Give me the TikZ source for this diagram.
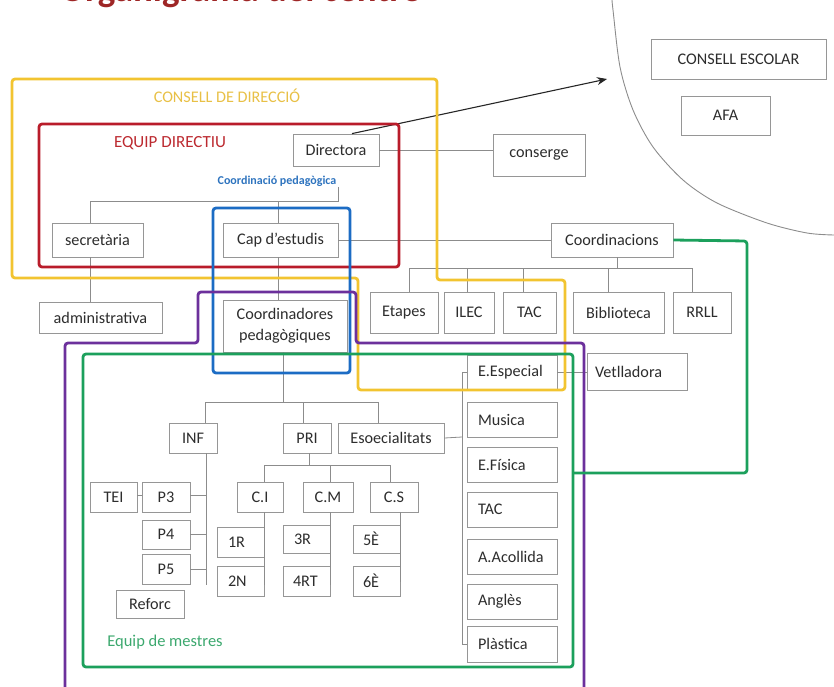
\documentclass[tikz,border=0pt]{standalone}
\usepackage{fontspec}
\setmainfont{Carlito}
\usetikzlibrary{arrows.meta}
\definecolor{boxline}{RGB}{150,150,150}
\definecolor{txt}{RGB}{45,45,45}
\definecolor{conn}{RGB}{140,140,140}
\definecolor{cyellow}{RGB}{242,196,48}
\definecolor{cred}{RGB}{185,28,42}
\definecolor{cblue}{RGB}{28,108,196}
\definecolor{cpurple}{RGB}{108,48,156}
\definecolor{cgreen}{RGB}{28,160,92}
\definecolor{ctitle}{RGB}{158,38,38}
\definecolor{lyellow}{RGB}{232,192,70}
\definecolor{lred}{RGB}{188,42,48}
\definecolor{lblue}{RGB}{45,115,190}
\definecolor{lgreen}{RGB}{60,168,110}
\begin{document}
\begin{tikzpicture}[x=1pt,y=-1pt,
  bx/.style={draw=boxline, line width=0.8pt, fill=white, inner sep=0pt, text=txt,
    font=\fontsize{16.2}{18}\selectfont, align=center},
  lbx/.style={bx, align=left},
  cn/.style={draw=conn, line width=0.8pt},
  frame/.style={line width=2.8pt, rounded corners=3pt},
  grp/.style={inner sep=0pt, font=\fontsize{16.2}{18}\selectfont}]
\useasboundingbox (0,0) rectangle (834,686);
\clip (0,0) rectangle (834,686);

% title (cut by the top edge)
\node[anchor=base west, inner sep=0pt, text=ctitle, font=\fontsize{37}{40}\selectfont\bfseries] (title) at (60,1.5) {Organigrama del centre};

% outside circle
\draw[conn, line width=0.9pt] plot[smooth] coordinates {(612,0) (613,10) (620,67) (633,110) (653,147) (683,180) (717,203) (767,223) (807,233) (834,235)};

% boxes
\node[bx, minimum width=175, minimum height=40] (consell) at (738.5,59) {CONSELL ESCOLAR};
\node[bx, minimum width=89, minimum height=39] (afa) at (725.5,115.5) {AFA};
\node[bx, minimum width=86, minimum height=32] (directora) at (336,150) {Directora};
\node[bx, minimum width=92, minimum height=42] (conserge) at (539,155) {conserge};
\node[bx, minimum width=91, minimum height=34] (secretaria) at (97.5,240) {secretària};
\node[bx, minimum width=115, minimum height=34] (cap) at (280.5,240) {Cap d’estudis};
\node[bx, minimum width=122, minimum height=34] (coordinacions) at (612,240) {Coordinacions};
\node[bx, minimum width=123, minimum height=31] (administrativa) at (100.5,317.5) {administrativa};
\node[bx, minimum width=124, minimum height=52, font=\fontsize{16.2}{21}\selectfont] (coordped) at (285,326) {Coordinadores\\pedagògiques};
\node[bx, minimum width=68, minimum height=41] (etapes) at (404,312.5) {Etapes};
\node[bx, minimum width=50, minimum height=41] (ilec) at (469,312.5) {ILEC};
\node[bx, minimum width=53, minimum height=41] (tacc) at (529.5,312.5) {TAC};
\node[bx, minimum width=91, minimum height=41] (biblioteca) at (618.5,312.5) {Biblioteca};
\node[bx, minimum width=58, minimum height=41] (rrll) at (702,312.5) {RRLL};

\node[lbx, minimum width=90, minimum height=35, text width=68] (especial) at (512,372.5) {E.Especial};
\node[lbx, minimum width=100, minimum height=37, text width=84] (vetlladora) at (637,371.5) {Vetlladora};
\node[lbx, minimum width=90, minimum height=35, text width=68] (musica) at (512,419.5) {Musica};
\node[lbx, minimum width=90, minimum height=35, text width=68] (efisica) at (512,464.5) {E.Física};
\node[lbx, minimum width=90, minimum height=35, text width=68] (tacs) at (512,509.5) {TAC};
\node[lbx, minimum width=90, minimum height=35, text width=68] (acollida) at (512,556.5) {A.Acollida};
\node[lbx, minimum width=90, minimum height=35, text width=68] (angles) at (512,601.5) {Anglès};
\node[lbx, minimum width=90, minimum height=36, text width=68] (plastica) at (512,644) {Plàstica};

\node[bx, minimum width=48, minimum height=30] (inf) at (193,438) {INF};
\node[bx, minimum width=48, minimum height=30] (pri) at (307,438) {PRI};
\node[bx, minimum width=106, minimum height=30] (esoec) at (391,438) {Esoecialitats};
\node[bx, minimum width=47, minimum height=30] (tei) at (113.5,497) {TEI};
\node[bx, minimum width=48, minimum height=30] (p3) at (166,497) {P3};
\node[bx, minimum width=48, minimum height=29] (p4) at (166,534.5) {P4};
\node[bx, minimum width=48, minimum height=30] (p5) at (166,569) {P5};
\node[bx, minimum width=68, minimum height=28] (reforc) at (150,604) {Reforc};
\node[bx, minimum width=46, minimum height=30] (ci) at (260,497) {C.I};
\node[bx, minimum width=50, minimum height=30] (cm) at (328,497) {C.M};
\node[bx, minimum width=48, minimum height=30] (cs) at (394,497) {C.S};
\node[lbx, minimum width=47, minimum height=30, text width=25] (r1) at (240.5,542) {1R};
\node[lbx, minimum width=47, minimum height=30, text width=25] (n2) at (240.5,581) {2N};
\node[lbx, minimum width=47, minimum height=28, text width=25] (r3) at (306.5,539) {3R};
\node[lbx, minimum width=47, minimum height=30, text width=27] (rt4) at (306.5,581) {4RT};
\node[lbx, minimum width=47, minimum height=28, text width=27] (e5) at (376.5,539) {5È};
\node[lbx, minimum width=47, minimum height=30, text width=27] (e6) at (376.5,581) {6È};

% group labels
\node[grp, text=lyellow] (lcd) at (227,96) {CONSELL DE DIRECCIÓ};
\node[grp, text=lred, font=\fontsize{17}{19}\selectfont] (led) at (170,143) {EQUIP DIRECTIU};
\node[inner sep=0pt, text=lblue, font=\fontsize{12}{14}\selectfont\bfseries] (lcp) at (277,181.5) {Coordinació pedagògica};
\node[inner sep=0pt, text=lgreen, font=\fontsize{16.5}{18}\selectfont] (lem) at (165,642) {Equip de mestres};

% junction coordinates
\coordinate (jd) at (338,201);
\coordinate (jsec) at (90,201);
\coordinate (jcap) at (278,201);
\coordinate (jco) at (617,268);
\coordinate (jcp) at (283,402);
\coordinate (jpri) at (309,465);
\coordinate (jsp) at (462,437);
\coordinate (jinf) at (206,585);

% connectors
\draw[cn] (directora.east) -- (directora.east -| conserge.west);
\draw[cn] (lcp.south -| jd) -- (jd) -- (jsec) -- (secretaria.north -| jsec);
\draw[cn] (jcap) -- (cap.north -| jcap);
\draw[cn] (secretaria.south -| jsec) -- (administrativa.north -| jsec);
\draw[cn] (cap.east) -- (coordinacions.west);
\draw[cn] (cap.south -| jcap) -- (coordped.north -| jcap);
% coordinacions tree
\draw[cn] (coordinacions.south -| jco) -- (jco);
\draw[cn] ([xshift=5pt]etapes.north |- jco) -- ([xshift=-10pt]rrll.north |- jco);
\draw[cn] ([xshift=5pt]etapes.north) -- ([xshift=5pt]etapes.north |- jco);
\draw[cn] ([xshift=-2pt]ilec.north) -- ([xshift=-2pt]ilec.north |- jco);
\draw[cn] ([xshift=-6pt]tacc.north) -- ([xshift=-6pt]tacc.north |- jco);
\draw[cn] ([xshift=-10pt]biblioteca.north) -- ([xshift=-10pt]biblioteca.north |- jco);
\draw[cn] ([xshift=-10pt]rrll.north) -- ([xshift=-10pt]rrll.north |- jco);
% coordinadores tree
\draw[cn] (coordped.south -| jcp) -- (jcp);
\draw[cn] ([xshift=12pt]inf.north |- jcp) -- ([xshift=-13pt]esoec.north |- jcp);
\draw[cn] ([xshift=12pt]inf.north) -- ([xshift=12pt]inf.north |- jcp);
\draw[cn] ([xshift=-4pt]pri.north) -- ([xshift=-4pt]pri.north |- jcp);
\draw[cn] ([xshift=-13pt]esoec.north) -- ([xshift=-13pt]esoec.north |- jcp);
% INF tree
\draw[cn] (inf.south -| jinf) -- (jinf);
\draw[cn] ([yshift=2pt]p3.east) -- ([yshift=2pt]p3.east -| jinf);
\draw[cn] (p4.east) -- (p4.east -| jinf);
\draw[cn] (p5.east) -- (p5.east -| jinf);
\draw[cn] ([yshift=2pt]tei.east) -- ([yshift=2pt]p3.west);
% PRI tree
\draw[cn] (pri.south -| jpri) -- (jpri);
\draw[cn] (r1.east |- jpri) -- ([xshift=-4pt]cs.north |- jpri);
\draw[cn] (r1.east |- jpri) -- (r1.east |- ci.north);
\draw[cn] ([xshift=2pt]cm.north |- jpri) -- ([xshift=2pt]cm.north);
\draw[cn] ([xshift=-4pt]cs.north |- jpri) -- ([xshift=-4pt]cs.north);
\draw[cn] (r1.east |- ci.south) -- ([yshift=-4pt]n2.east);
\draw[cn] (r3.east |- cm.south) -- ([yshift=-4pt]rt4.east);
\draw[cn] (e5.east |- cs.south) -- ([yshift=-1pt]e6.east);
% specialities column
\draw[cn] (esoec.east) -- (jsp);
\draw[cn] (especial.west) -- (especial.west -| jsp) -- (plastica.west -| jsp) -- (plastica.west);
\draw[cn] (especial.east) -- (especial.east -| vetlladora.west);

% arrow to the school council
\coordinate (arrowend) at (607,79);
\draw[black!85, line width=1.1pt, -{Stealth[length=10pt,width=8pt]}] ([xshift=16pt]directora.north) -- (arrowend);

% coloured frames
\draw[frame, draw=cyellow] (12,79) -- (437,79) -- (437,280) -- (565,280) -- (565,390) -- (358,390) -- (358,278) -- (12,278) -- cycle;
\draw[frame, draw=cred] (39,124) rectangle (399,267);
\draw[frame, draw=cblue] (213,208) rectangle (350,373);
\draw[frame, draw=cpurple] (65,700) -- (65,343) -- (198,343) -- (198,292) -- (356,292) -- (356,343) -- (584,343) -- (584,700);
\draw[frame, draw=cgreen] (83,354) rectangle (573,667);
\draw[frame, draw=cgreen] (coordinacions.east) -- (747,241) -- (747,473) -- (573,473);
\end{tikzpicture}
\end{document}
